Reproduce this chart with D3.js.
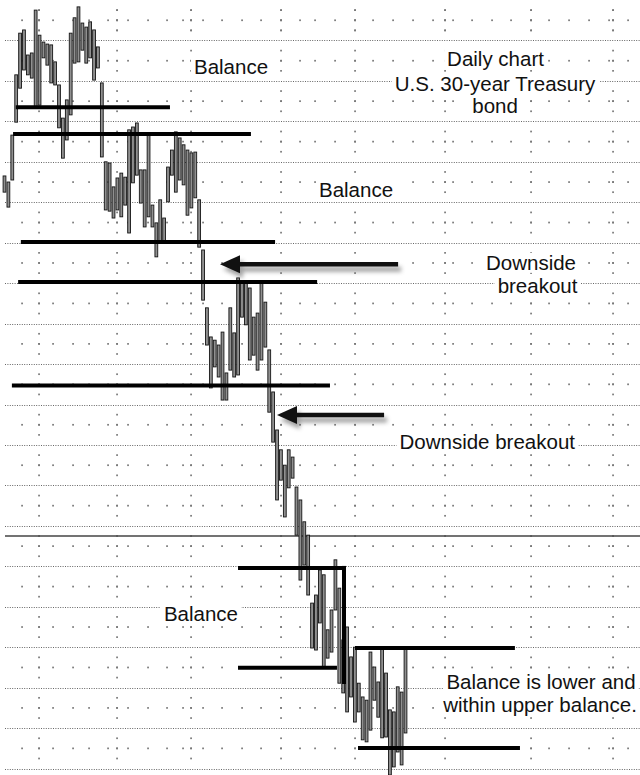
<!DOCTYPE html>
<html><head><meta charset="utf-8">
<script src="https://cdn.jsdelivr.net/npm/d3@7"></script>
<style>html,body{margin:0;padding:0;background:#fff;} svg{display:block;}</style>
</head><body>
<svg id="chart" width="640" height="775"></svg>
<script>
// ---- data (prices in points, x in trading-day index) ----
const highs = [116.65,116.50,117.66,119.15,120.18,120.26,119.64,119.69,120.75,120.13,119.96,119.91,119.89,119.47,118.90,118.08,118.53,120.18,120.56,120.83,120.43,120.33,120.46,120.26,119.84,118.95,
117.00,116.97,116.38,116.60,116.72,116.62,117.79,117.86,117.96,116.80,116.80,117.66,115.93,115.49,116.06,115.61,116.87,117.29,117.74,117.59,117.42,117.29,117.22,117.24,116.06,114.82,
113.39,112.67,112.59,112.47,112.79,111.78,113.39,112.77,114.13,114.00,114.00,113.88,113.16,113.26,114.00,113.53,112.35,111.31,110.37,109.88,109.50,109.88,109.70,108.96,108.64,
108.10,107.77,106.09,106.29,106.91,106.79,105.43,105.92,107.16,106.46,105.18,105.50,104.76,105.00,104.11,103.77,103.69,104.88,104.51,104.14,104.98,104.36,103.45,103.40,104.02,103.89,104.98];
const lows = [116.25,115.88,116.55,117.98,118.82,119.27,119.15,119.07,118.33,118.40,119.57,119.39,118.95,118.90,117.84,117.09,117.54,118.16,119.44,119.47,119.76,119.44,119.57,119.02,119.32,117.12,
115.81,115.78,115.61,115.81,115.64,115.93,115.24,116.48,116.67,115.98,115.39,115.64,115.39,114.65,114.99,114.99,116.01,116.67,116.25,116.55,116.43,115.68,115.86,116.11,114.89,113.58,
112.47,111.41,111.93,111.68,111.11,111.11,111.85,111.68,111.73,113.16,112.97,112.10,112.22,111.85,112.10,112.42,110.81,110.07,108.64,109.13,108.22,108.94,109.18,107.77,106.66,
107.03,106.29,104.98,104.93,105.60,104.51,104.73,104.88,105.92,104.11,103.87,103.40,103.77,103.15,103.40,102.71,102.66,102.95,103.69,103.27,102.76,102.78,101.84,102.04,102.41,102.09,102.88];

// grid ticks
const priceLines = [120,119,118,117,116,115,114,113,112,111,110,109,108,107,106,105,104,103,102];
const weekDays = [4.5,12.46,17.6,21.71,26.59,31.72,36.86,41.74,45.85,50.99,55.87,61.01,65.89,75.9,79.76,84.9,94.66,99.8,104.93,110.07,115.21,120.09,125.22,130.1,139.86,145.0,150.14,155.28,160.16];
const monthDays = [8.86,28.9,47.91,71.02,90.03,113.15,135.24,156.3];
const refPrice = 107.75;

// balance levels
const levelPrices = [118.35,117.69,115.02,114.03,111.47,106.96,104.49,104.98,102.51];
const levelStart  = [2.9,2.2,4.2,3.5,1.9,59.98,59.98,90.03,90.8];
const levelEnd    = [42.5,63.3,69.5,80.3,83.6,87.45,85.4,131.1,132.4];
const edgeDay = 87.2, edgeTop = 106.96, edgeBottom = 104.09;

// arrows
const arrowPrices = [114.47,110.74];
const arrowTip = [55.35,70.0];
const arrowTail = [101.1,97.5];

// labels
const labelText = ["Balance","Daily chart","U.S. 30-year Treasury","bond","Balance","Downside","breakout","Downside breakout","Balance","Balance is lower and","within upper balance."];
const labelDay  = [58.18,126.12,126.0,126.0,90.29,135.24,136.91,124.0,50.47,137.81,137.55];
const labelPrice= [119.16,119.37,118.75,118.21,116.13,114.33,113.76,109.9,105.65,103.97,103.40];

// ---- scales ----
const W = 640, H = 775;
const x = d3.scaleLinear().domain([0, highs.length - 1]).range([4.5, 405.5]);
const y = d3.scaleLinear().domain([121, 102]).range([0, 768.55]);

const svg = d3.select("#chart");
svg.append("rect").attr("width", W).attr("height", H).attr("fill", "#fff");

const defs = svg.append("defs");
defs.append("filter").attr("id","blur").attr("x","-20%").attr("y","-100%").attr("width","140%").attr("height","300%")
  .append("feGaussianBlur").attr("stdDeviation", 2.2);

// grid: dotted price lines
const grid = svg.append("g");
grid.selectAll("line.dot").data(priceLines).join("line")
  .attr("x1", 5).attr("x2", W)
  .attr("y1", d => Math.round(y(d)) + 0.5).attr("y2", d => Math.round(y(d)) + 0.5)
  .attr("stroke", "#666").attr("stroke-width", 1).attr("stroke-dasharray", "1,1.4");

// row dots at half points
const halfRows = priceLines.map(p => p + 0.5).concat([101.5]);
const rowDots = [];
halfRows.forEach(p => weekDays.concat(monthDays).forEach(d => rowDots.push([d, p])));
// column dots at quarter points
const quarterOffsets = [0.25, 0.5, 0.75];
[120].concat(priceLines).concat([101]).forEach(p => monthDays.forEach(d => quarterOffsets.forEach(q => rowDots.push([d, p + q]))));
grid.selectAll("rect.gd").data(rowDots).join("rect")
  .attr("x", d => x(d[0]) - 0.8).attr("y", d => y(d[1]) - 0.8)
  .attr("width", 1.7).attr("height", 1.7).attr("fill", "#777");

// reference solid line
svg.append("line").attr("x1", 5).attr("x2", W)
  .attr("y1", y(refPrice)).attr("y2", y(refPrice))
  .attr("stroke", "#444").attr("stroke-width", 1.5);

// bars
const idx = d3.range(highs.length);
svg.append("g").selectAll("rect").data(idx).join("rect")
  .attr("x", i => x(i) - 1.4).attr("width", 2.8)
  .attr("y", i => y(highs[i])).attr("height", i => y(lows[i]) - y(highs[i]))
  .attr("fill", "#909090").attr("stroke", "#151515").attr("stroke-width", 0.9);

// balance level lines
svg.append("g").selectAll("line").data(levelPrices).join("line")
  .attr("x1", (d, i) => x(levelStart[i])).attr("x2", (d, i) => x(levelEnd[i]))
  .attr("y1", d => y(d)).attr("y2", d => y(d))
  .attr("stroke", "#000").attr("stroke-width", 4);
svg.append("line").attr("x1", x(edgeDay)).attr("x2", x(edgeDay))
  .attr("y1", y(edgeTop) - 2).attr("y2", y(edgeBottom))
  .attr("stroke", "#000").attr("stroke-width", 4);

// arrows
const ag = svg.append("g");
arrowPrices.forEach((p, i) => {
  const tx = x(arrowTip[i]), ex = x(arrowTail[i]), yy = y(p);
  const headL = 20, headH = 9;
  const shadow = ag.append("g").attr("filter", "url(#blur)").attr("opacity", 0.55).attr("transform", "translate(3,5)");
  shadow.append("line").attr("x1", tx + headL - 2).attr("x2", ex).attr("y1", yy).attr("y2", yy).attr("stroke", "#555").attr("stroke-width", 5);
  shadow.append("path").attr("d", `M${tx},${yy} L${tx + headL},${yy - headH} L${tx + headL},${yy + headH} Z`).attr("fill", "#555");
  ag.append("line").attr("x1", tx + headL - 2).attr("x2", ex).attr("y1", yy).attr("y2", yy).attr("stroke", "#111").attr("stroke-width", 4.5);
  ag.append("path").attr("d", `M${tx},${yy} L${tx + headL},${yy - headH} L${tx + headL},${yy + headH} Z`).attr("fill", "#111");
});

// labels
const lg = svg.append("g");
labelText.forEach((t, i) => {
  const g = lg.append("g");
  const txt = g.append("text").attr("x", x(labelDay[i])).attr("y", y(labelPrice[i]))
    .attr("text-anchor", "middle")
    .attr("font-family", "'Liberation Sans', Arial, Helvetica, sans-serif")
    .attr("font-size", 20.5).attr("fill", "#111").text(t);
  const b = txt.node().getBBox();
  g.insert("rect", "text").attr("x", b.x - 3).attr("y", b.y + 2).attr("width", b.width + 6).attr("height", b.height - 3).attr("fill", "#fff");
});
</script>
</body></html>
